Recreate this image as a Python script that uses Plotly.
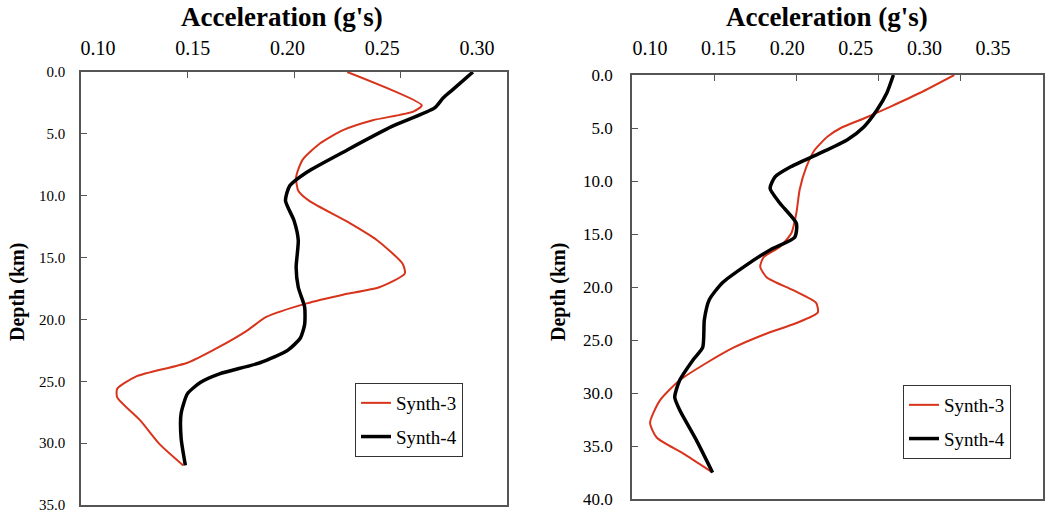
import plotly.graph_objects as go

# ---------------- data ----------------
# Left panel
left_s3_acc = [0.225, 0.260, 0.256, 0.237, 0.223, 0.212, 0.204, 0.201, 0.202, 0.207,
               0.226, 0.239, 0.251, 0.252, 0.240, 0.223, 0.206, 0.187, 0.178, 0.164,
               0.150, 0.126, 0.117, 0.117, 0.128, 0.137, 0.148]
left_s3_depth = [0.0, 2.7, 3.2, 3.9, 4.7, 5.8, 7.1, 8.5, 9.6, 10.4,
                 12.2, 13.6, 15.5, 16.3, 17.4, 18.0, 18.7, 19.8, 20.9, 22.3,
                 23.5, 24.6, 25.6, 26.3, 28.2, 30.1, 31.8]
left_s4_acc = [0.284, 0.274, 0.270, 0.266, 0.246, 0.225, 0.206, 0.198, 0.196, 0.200,
               0.202, 0.201, 0.202, 0.205, 0.205, 0.203, 0.197, 0.184, 0.165, 0.156,
               0.150, 0.147, 0.147, 0.149]
left_s4_depth = [0.0, 1.5, 2.1, 2.9, 4.4, 6.3, 8.1, 9.2, 10.4, 12.0,
                 13.6, 15.8, 17.4, 19.0, 20.4, 21.5, 22.5, 23.5, 24.4, 25.1,
                 26.0, 27.6, 29.6, 31.8]

# Right panel
right_s3_acc = [0.296, 0.275, 0.257, 0.241, 0.227, 0.219, 0.211, 0.206, 0.202, 0.200,
                0.197, 0.190, 0.180, 0.178, 0.182, 0.198, 0.212, 0.213, 0.200, 0.180,
                0.162, 0.146, 0.129, 0.117, 0.111, 0.115, 0.131, 0.149]
right_s3_depth = [0.0, 1.7, 3.0, 4.1, 5.0, 5.8, 7.1, 8.7, 10.8, 13.0,
                  14.9, 16.2, 17.2, 18.1, 19.1, 20.3, 21.5, 22.4, 23.4, 24.5,
                  25.7, 27.1, 28.8, 30.7, 32.8, 34.2, 35.7, 37.5]
right_s4_acc = [0.259, 0.255, 0.249, 0.241, 0.231, 0.214, 0.196, 0.187, 0.184, 0.190,
                0.200, 0.199, 0.184, 0.168, 0.155, 0.147, 0.144, 0.143, 0.137, 0.129,
                0.126, 0.129, 0.139, 0.149]
right_s4_depth = [0.0, 1.7, 3.3, 4.9, 6.1, 7.4, 8.7, 9.6, 10.7, 12.1,
                  14.0, 15.3, 16.5, 18.1, 19.6, 21.2, 23.1, 25.7, 26.9, 28.8,
                  30.4, 31.6, 34.4, 37.5]

# tick values / labels
left_xticks = [0.10, 0.15, 0.20, 0.25, 0.30]
right_xticks = [0.10, 0.15, 0.20, 0.25, 0.30, 0.35]
left_yticks = [0, 5, 10, 15, 20, 25, 30, 35]
right_yticks = [0, 5, 10, 15, 20, 25, 30, 35, 40]

series_names = ["Synth-3", "Synth-4"]
x_title = "Acceleration (g's)"
y_title = "Depth (km)"

RED = "#D8341C"
BLACK = "#000000"
SERIF = "Liberation Serif, Times New Roman, serif"

fig = go.Figure()

def add_pair(s3x, s3y, s4x, s4y, xa, ya, leg):
    fig.add_trace(go.Scatter(x=s3x, y=s3y, mode="lines", name=series_names[0],
                             line=dict(color=RED, width=2, shape="spline", smoothing=0.6),
                             xaxis=xa, yaxis=ya, legend=leg, legendgroup=leg + "a"))
    fig.add_trace(go.Scatter(x=s4x, y=s4y, mode="lines", name=series_names[1],
                             line=dict(color=BLACK, width=3.5, shape="spline", smoothing=0.6),
                             xaxis=xa, yaxis=ya, legend=leg, legendgroup=leg + "b"))

add_pair(left_s3_acc, left_s3_depth, left_s4_acc, left_s4_depth, "x", "y", "legend")
add_pair(right_s3_acc, right_s3_depth, right_s4_acc, right_s4_depth, "x2", "y2", "legend2")

# empty helper traces so the label-only axes (x3, x4) are drawn
fig.add_trace(go.Scatter(x=[], y=[], xaxis="x3", yaxis="y3", showlegend=False, hoverinfo="skip"))
fig.add_trace(go.Scatter(x=[], y=[], xaxis="x4", yaxis="y3", showlegend=False, hoverinfo="skip"))

W, H = 1045, 516
def px(x): return x / W
def py(y): return 1 - y / H

axis_common = dict(showgrid=False, zeroline=False, showline=True, mirror=True,
                   linecolor="#555555", linewidth=1.5, ticks="inside", ticklen=6,
                   tickcolor="#555555", automargin=False)

label_axis = dict(showgrid=False, zeroline=False, showline=False, ticks="",
                  side="top", anchor="free", position=py(59), automargin=False,
                  tickmode="array", tickformat=".2f", ticklabelstandoff=0,
                  ticklabeloverflow="allow", fixedrange=True,
                  tickfont=dict(family=SERIF, size=20, color="black"))

fig.update_layout(
    font=dict(family=SERIF, color="black"),
    width=W, height=H, margin=dict(l=0, r=0, t=0, b=0),
    paper_bgcolor="white", plot_bgcolor="rgba(0,0,0,0)",
    showlegend=True,
    xaxis=dict(domain=[px(81), px(507)], range=[0.10, 0.30],
               tickmode="array", tickvals=left_xticks, showticklabels=False,
               side="top", anchor="y", **axis_common),
    yaxis=dict(domain=[py(505), py(72)], range=[35, 0],
               tickmode="array", tickvals=left_yticks,
               tickformat=".1f", anchor="x", ticklabelstandoff=11,
               tickfont=dict(family=SERIF, size=15, color="black"), **axis_common),
    xaxis2=dict(domain=[px(632), px(1043)], range=[0.10, 0.35],
                tickmode="array", tickvals=right_xticks, showticklabels=False,
                side="top", anchor="y2", **axis_common),
    yaxis2=dict(domain=[py(499), py(75)], range=[40, 0],
                tickmode="array", tickvals=right_yticks,
                tickformat=".1f", anchor="x2", ticklabelstandoff=14,
                tickfont=dict(family=SERIF, size=17, color="black"), **axis_common),
    xaxis3=dict(domain=[px(98), px(477)], range=[0.10, 0.30], tickvals=left_xticks, **label_axis),
    xaxis4=dict(domain=[px(650), px(993)], range=[0.10, 0.35], tickvals=right_xticks, **label_axis),
    yaxis3=dict(domain=[0, 0.01], visible=False, range=[0, 1], fixedrange=True),
    legend=dict(x=px(355), y=py(383), xanchor="left", yanchor="top",
                bordercolor="#333333", borderwidth=1, bgcolor="white",
                font=dict(family=SERIF, size=19, color="black"),
                tracegroupgap=6, itemwidth=30),
    legend2=dict(x=px(903), y=py(385), xanchor="left", yanchor="top",
                 bordercolor="#333333", borderwidth=1, bgcolor="white",
                 font=dict(family=SERIF, size=19, color="black"),
                 tracegroupgap=6, itemwidth=30),
)

titles = [
    (x_title, px(282), py(17), 0, 27),
    (x_title, px(827), py(17), 0, 27),
    (y_title, px(17), py(292), -90, 20),
    (y_title, px(558), py(292), -90, 20),
]
for text, x, y, ang, sz in titles:
    fig.add_annotation(text="<b>" + text + "</b>", x=x, y=y, xref="paper", yref="paper",
                       xanchor="center", yanchor="middle", showarrow=False, textangle=ang,
                       font=dict(family=SERIF, size=sz, color="black"))

fig.write_html("out.html")
